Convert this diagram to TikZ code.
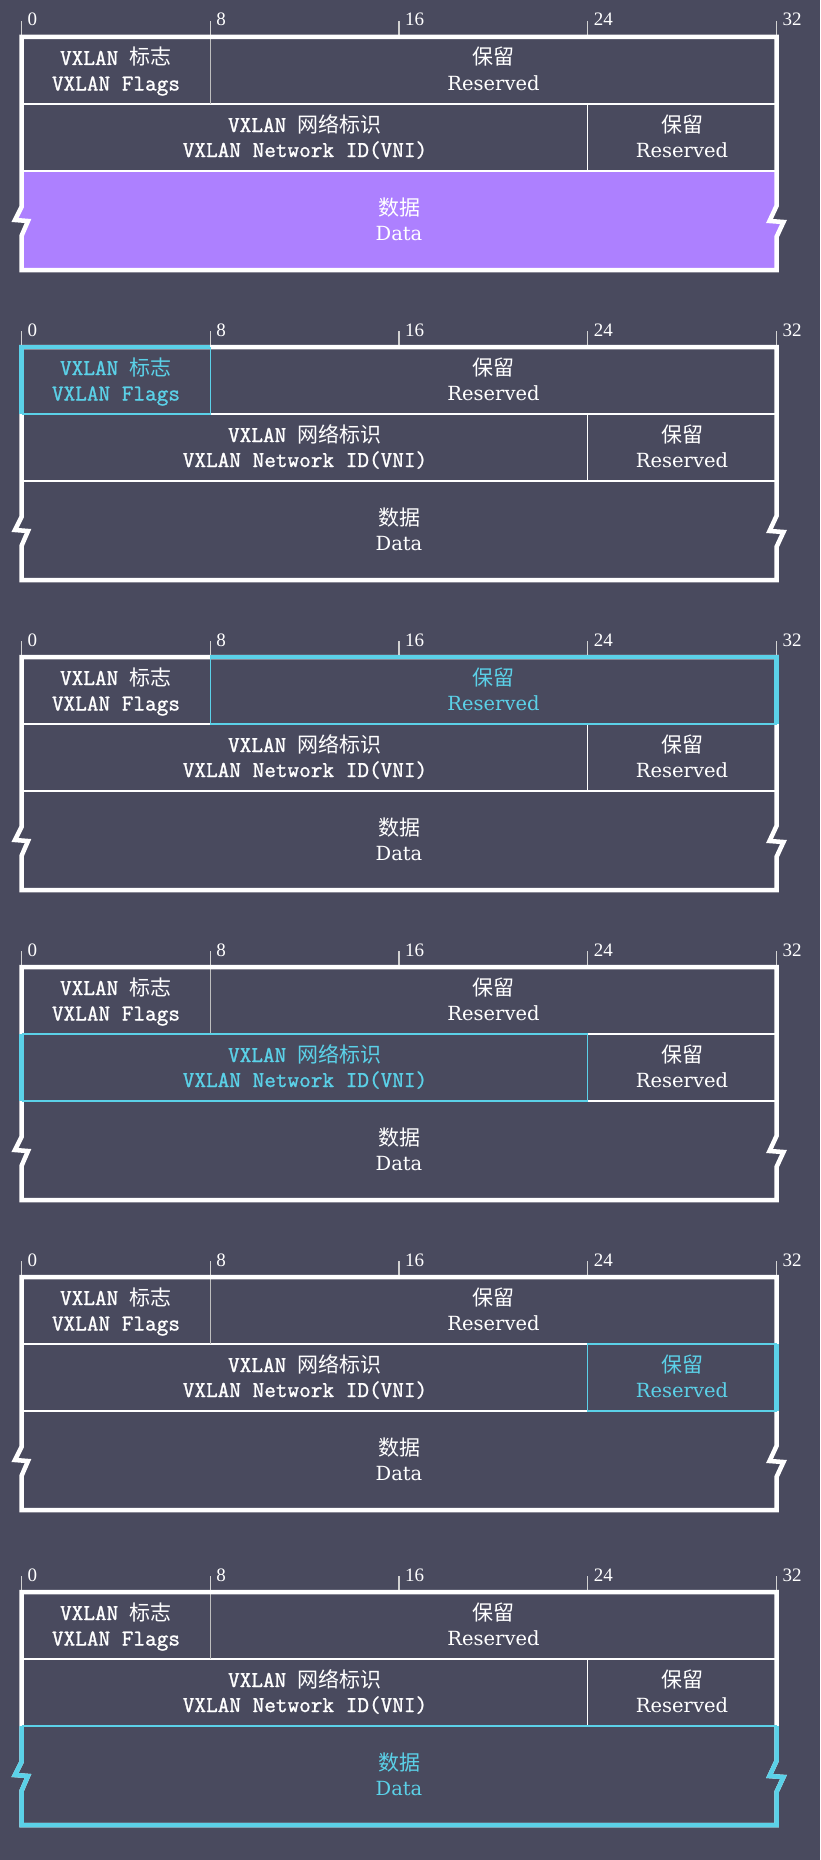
\documentclass[tikz,border=0pt]{standalone}
\usepackage{fontspec}
\newfontfamily\cjkf{Noto Sans CJK SC}
\newfontfamily\monof[FakeBold=1.2]{Latin Modern Mono}
\newfontfamily\dvs{DejaVu Serif}
\newfontfamily\lbs{Liberation Serif}
\definecolor{bgc}{RGB}{73,74,94}
\definecolor{purp}{RGB}{173,128,255}
\definecolor{cyanc}{RGB}{91,209,232}
\definecolor{divgray}{RGB}{190,190,190}
\newcommand\mtxt[1]{{\monof\fontsize{22.6}{25}\selectfont #1}}
\newcommand\ctxt[1]{{\cjkf\fontsize{21}{25}\selectfont #1}}
\newcommand\rtxt[1]{{\dvs\fontsize{19.5}{25}\selectfont #1}}
\tikzset{
  celltext/.style={anchor=base, inner sep=0pt},
  ticklab/.style={anchor=base west, inner sep=0pt, font=\lbs\fontsize{19}{22}\selectfont, text=white},
  tickline/.style={draw=divgray!70!white, line width=1.3pt},
  thinline/.style={draw=white, line width=1.1pt},
  grayline/.style={draw=divgray, line width=1.4pt},
  frameline/.style={draw=white, line width=4.5pt, line join=miter},
  hlthick/.style={draw=cyanc, line width=4.5pt, line join=miter},
  hlthin/.style={draw=cyanc, line width=1.2pt},
}
\newcommand\vxpanel[2]{%
\begin{scope}[shift={(0,#1)}]
  \ifnum#2=1 \colorlet{tA}{cyanc}\else\colorlet{tA}{white}\fi
  \ifnum#2=2 \colorlet{tB}{cyanc}\else\colorlet{tB}{white}\fi
  \ifnum#2=3 \colorlet{tC}{cyanc}\else\colorlet{tC}{white}\fi
  \ifnum#2=4 \colorlet{tD}{cyanc}\else\colorlet{tD}{white}\fi
  \ifnum#2=5 \colorlet{tE}{cyanc}\else\colorlet{tE}{white}\fi
  \ifnum#2=0
    \fill[purp] (21.5,171) -- (776.5,171) -- (776.5,206) -- (769.5,221) -- (783.5,222) -- (776.5,237) -- (776.5,270) -- (21.5,270) -- (21.5,236) -- (28,221) -- (15,220) -- (21.5,207) -- cycle;
  \fi
  % ticks
  \foreach \i/\xx in {0/21.5, 8/210.25, 16/399, 24/587.75, 32/776.5} {
    \draw[tickline] (\xx,21) -- (\xx,37);
    \node[ticklab] (t#2-\i) at (\xx+6,26) {\i};
  }
  % inner lines
  \draw[thinline] (21.5,104) -- (776.5,104);
  \draw[thinline] (21.5,171) -- (776.5,171);
  \draw[grayline] (210.25,37) -- (210.25,104);
  \draw[thinline] (587.75,104) -- (587.75,171);
  % frame
  \draw[frameline] (21.5,37) -- (776.5,37) -- (776.5,206) -- (769.5,221) -- (783.5,222) -- (776.5,237) -- (776.5,270) -- (21.5,270) -- (21.5,236) -- (28,221) -- (15,220) -- (21.5,207) -- cycle;
  % highlights
  \ifnum#2=1
    \draw[hlthin] (210.25,37) -- (210.25,104) -- (21.5,104);
    \draw[hlthick] (21.5,104) -- (21.5,37) -- (210.25,37);
  \fi
  \ifnum#2=2
    \draw[hlthin] (210.25,37) -- (210.25,104) -- (776.5,104);
    \draw[hlthick] (210.25,37) -- (776.5,37) -- (776.5,104);
  \fi
  \ifnum#2=3
    \draw[hlthin] (21.5,104) -- (587.75,104) -- (587.75,171) -- (21.5,171);
    \draw[hlthick] (21.5,104) -- (21.5,171);
  \fi
  \ifnum#2=4
    \draw[hlthin] (776.5,104) -- (587.75,104) -- (587.75,171) -- (776.5,171);
    \draw[hlthick] (776.5,104) -- (776.5,171);
  \fi
  \ifnum#2=5
    \draw[hlthin] (21.5,171) -- (776.5,171);
    \draw[hlthick] (21.5,171) -- (21.5,207) -- (15,220) -- (28,221) -- (21.5,236) -- (21.5,270) -- (776.5,270) -- (776.5,237) -- (783.5,222) -- (769.5,221) -- (776.5,206) -- (776.5,171);
  \fi
  % texts
  \node[celltext, text=tA] (fa#2) at (116,65) {\mtxt{VXLAN }\ctxt{标志}};
  \node[celltext, text=tA] (fb#2) at (116,90.5) {\mtxt{VXLAN Flags}};
  \node[celltext, text=tB] (ra#2) at (493.5,65) {\ctxt{保留}};
  \node[celltext, text=tB] (rb#2) at (493.5,90.5) {\rtxt{Reserved}};
  \node[celltext, text=tC] (va#2) at (305,132) {\mtxt{VXLAN }\ctxt{网络标识}};
  \node[celltext, text=tC] (vb#2) at (305,157) {\mtxt{VXLAN Network ID(VNI)}};
  \node[celltext, text=tD] (sa#2) at (682,132) {\ctxt{保留}};
  \node[celltext, text=tD] (sb#2) at (682,157) {\rtxt{Reserved}};
  \node[celltext, text=tE] (da#2) at (399,215) {\ctxt{数据}};
  \node[celltext, text=tE] (db#2) at (399,240.5) {\rtxt{Data}};
\end{scope}}
\begin{document}
\begin{tikzpicture}[x=1pt,y=-1pt]
  \useasboundingbox (0,0) rectangle (820,1860);
  \fill[bgc] (0,0) rectangle (820,1860);
  \vxpanel{0}{0}
  \vxpanel{310}{1}
  \vxpanel{620}{2}
  \vxpanel{930}{3}
  \vxpanel{1240}{4}
  \vxpanel{1555}{5}
\end{tikzpicture}
\end{document}
